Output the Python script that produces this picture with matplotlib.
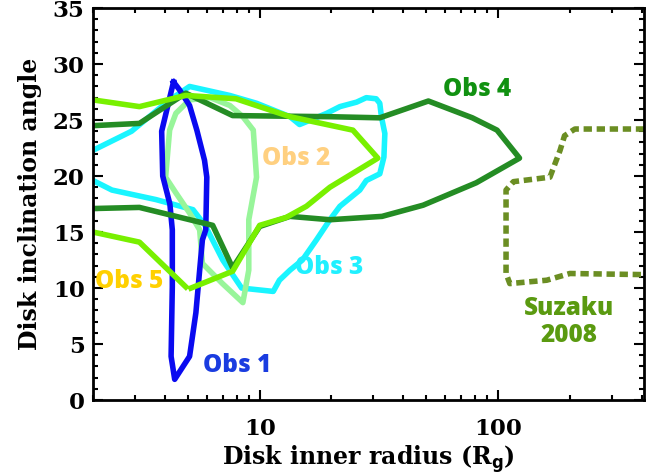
import numpy as np
import matplotlib.pyplot as plt
from matplotlib.ticker import MultipleLocator, LogLocator, FixedLocator, NullFormatter

# contour traces: inner radius (R_g) vs inclination (deg)
obs1_r = [4.35, 3.88, 3.92, 4.2, 4.3, 4.3, 4.25, 4.4, 5.08, 5.4, 5.6, 5.75, 5.94, 6.0, 5.87, 5.45, 5.08, 4.61, 4.35]
obs1_i = [28.4, 24.0, 20.0, 17.5, 15.2, 10.1, 3.9, 1.85, 3.9, 7.8, 11.6, 14.3, 15.2, 19.9, 21.4, 24.1, 26.3, 27.7, 28.4]

obs2_r = [5.08, 4.45, 4.19, 4.03, 4.45, 5.08, 5.6, 5.75, 6.98, 8.5, 9.0, 9.0, 9.7, 9.4, 8.5, 7.5, 6.2, 5.08]
obs2_i = [26.8, 25.6, 24.1, 19.9, 18.5, 16.7, 15.2, 12.2, 10.4, 8.7, 11.6, 16.1, 19.9, 24.1, 25.3, 26.3, 27.0, 26.8]

obs3_r = [2.0, 2.9, 4.19, 5.08, 7.48, 9.7, 13.4, 14.7, 19.1, 21.7, 25.5, 28.0, 30.8, 31.9, 32.4, 33.5,
          33.2, 31.9, 28.0, 26.3, 21.7, 19.7, 17.3, 15.1, 13.4, 12.1, 11.4, 8.4, 7.0, 5.9, 5.25, 3.67, 2.4, 2.0]
obs3_i = [22.3, 24.0, 26.8, 28.0, 27.2, 26.5, 25.3, 24.6, 25.6, 26.2, 26.6, 27.0, 26.9, 26.5, 25.3, 23.8,
          21.7, 20.2, 19.6, 18.75, 17.3, 16.1, 14.3, 12.5, 11.6, 10.7, 9.7, 10.0, 12.5, 15.6, 17.0, 17.9, 18.75, 19.6]

obs4_r = [2.0, 3.13, 4.9, 7.7, 19.7, 31.9, 51.0, 78.0, 99.0, 123.0, 81.0, 48.5, 32.6, 19.7, 13.4, 10.0, 7.7, 6.35, 3.13, 2.0]
obs4_i = [24.5, 24.7, 27.4, 25.4, 25.3, 25.2, 26.7, 25.2, 24.1, 21.6, 19.4, 17.4, 16.4, 16.1, 16.4, 15.5, 11.8, 15.6, 17.2, 17.1]

# NaN marks the small gap in the Obs 5 contour
obs5_r = [2.0, 3.13, 4.9, np.nan, 5.15, 7.7, 10.0, 12.9, 15.7, 19.7, 31.3, 24.6, 13.4, 7.95, 4.9, 3.13, 2.0]
obs5_i = [15.0, 14.1, 10.1, np.nan, 10.0, 11.5, 15.6, 16.3, 17.3, 19.0, 21.6, 24.1, 25.3, 26.9, 27.2, 26.2, 26.8]

suzaku_r = [410, 210, 190, 182, 165, 116, 108, 108, 108, 112, 160, 200, 410]
suzaku_i = [24.2, 24.2, 23.6, 22.3, 19.9, 19.5, 18.75, 15.2, 11.3, 10.4, 10.7, 11.3, 11.2]

fig = plt.figure(figsize=(6.6, 4.74), dpi=100)
ax = fig.add_axes([0.141, 0.156, 0.835, 0.827])

lw = 4
ax.plot(obs3_r, obs3_i, color="#19f5ff", lw=lw)
ax.plot(obs2_r, obs2_i, color="#98f59a", lw=lw)
ax.plot(obs1_r, obs1_i, color="#0a0af0", lw=lw)
ax.plot(obs4_r, obs4_i, color="#248c24", lw=lw)
ax.plot(obs5_r, obs5_i, color="#78f000", lw=lw)
ax.plot(suzaku_r, suzaku_i, color="#6b8e23", lw=lw, linestyle=(0, (1.5, 0.85)), dash_capstyle="butt")

lab = dict(family="Open Sans", fontweight="heavy", fontsize=17.5, va="center")
ax.text(5.8, 3.1, "Obs 1", color="#1a3ce0", ha="left", **lab)
ax.text(10.2, 21.6, "Obs 2", color="#ffd080", ha="left", **lab)
ax.text(14.0, 11.8, "Obs 3", color="#20f0ff", ha="left", **lab)
ax.text(58.9, 27.7, "Obs 4", color="#119111", ha="left", **lab)
ax.text(2.03, 10.6, "Obs 5", color="#ffd000", ha="left", **lab)
ax.text(199, 7.0, "Suzaku\n2008", color="#5a9a10", ha="center", linespacing=1.1, **lab)

ax.set_xscale("log")
ax.set_xlim(2, 410)
ax.set_ylim(0, 35)

ax.yaxis.set_major_locator(MultipleLocator(5))
ax.yaxis.set_minor_locator(MultipleLocator(1))
ax.xaxis.set_major_locator(FixedLocator([10, 100]))
ax.xaxis.set_minor_locator(LogLocator(base=10, subs=np.arange(2, 10)))
ax.xaxis.set_minor_formatter(NullFormatter())
ax.set_xticklabels(["10", "100"])

ax.tick_params(which="both", direction="in", top=True, right=True, width=1.5)
ax.tick_params(which="major", length=7, labelsize=16.5, pad=6)
ax.tick_params(axis="x", which="major", pad=13)
ax.tick_params(which="minor", length=3.5)
for t in ax.get_xticklabels() + ax.get_yticklabels():
    t.set_family("DejaVu Serif")
    t.set_fontweight("bold")
for s in ax.spines.values():
    s.set_linewidth(2)

ax.set_xlabel(r"Disk inner radius (R$_{\mathbf{g}}$)", family="DejaVu Serif", fontweight="bold", fontsize=17, labelpad=2)
ax.set_ylabel("Disk inclination angle", family="DejaVu Serif", fontweight="bold", fontsize=17, labelpad=8)

fig.savefig("out.png", dpi=100)
